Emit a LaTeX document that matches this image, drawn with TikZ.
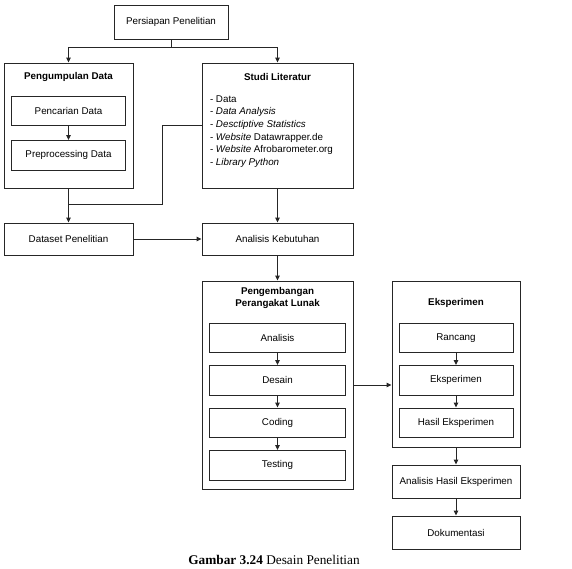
\documentclass[tikz,border=0pt]{standalone}
\usepackage{fontspec}
\setmainfont{Liberation Sans}
\newfontfamily\capfont{Liberation Serif}
\usetikzlibrary{arrows.meta, positioning, calc}
\newcommand{\boxfont}{\fontsize{9.8pt}{12.6pt}\selectfont}
\tikzset{
  >={Triangle[length=5pt, width=4.5pt]},
  stepbox/.style = {draw, rectangle, minimum width=114pt, minimum height=29.5pt,
                    inner sep=1pt, font=\boxfont, align=center},
  group/.style   = {draw, rectangle, inner sep=0pt},
  title/.style   = {font=\boxfont\bfseries, align=center, inner sep=0pt},
  arrow/.style   = {->, line width=1pt, black!85},
  link/.style    = {line width=1pt, black!85},
}
\begin{document}
\begin{tikzpicture}[
  every node/.style = {line width=1pt, draw=black!85}]
  \useasboundingbox (0,0) rectangle (572pt,-568pt);

  % Top: preparation
  \node[stepbox, minimum height=34pt] (persiapan) at (171pt,-22pt) {Persiapan Penelitian};

  % Left column: data collection
  \node[group, minimum width=129pt, minimum height=125pt] (kumpul) at (68.5pt,-125.5pt) {};
  \node[title, draw=none] at ([yshift=-14pt]kumpul.north) {Pengumpulan Data};
  \node[stepbox, below=33pt of kumpul.north] (cari)   {Pencarian Data};
  \node[stepbox, below=14pt of cari]         (prepro) {Preprocessing Data};
  \node[stepbox, minimum width=129pt, minimum height=32pt,
        below=34pt of kumpul]                (dataset) {Dataset Penelitian};

  % Middle column: literature and software development
  \node[group, minimum width=151pt, minimum height=125pt] (studi) at (277.5pt,-125.5pt) {};
  \node[title, draw=none] at ([yshift=-14pt]studi.north) {Studi Literatur};
  \node[draw=none, anchor=north west, align=left, inner sep=0pt, font=\boxfont]
       (pustaka) at ([xshift=8pt, yshift=-32.5pt]studi.north west)
       {- Data\\
        - \textit{Data Analysis}\\
        - \textit{Desctiptive Statistics}\\
        - \textit{Website} Datawrapper.de\\
        - \textit{Website} Afrobarometer.org\\
        - \textit{Library Python}};
  \node[stepbox, minimum width=151pt, minimum height=32pt,
        below=34pt of studi]                 (kebutuhan) {Analisis Kebutuhan};
  \node[group, minimum width=151pt, minimum height=208pt,
        below=25pt of kebutuhan]             (kembang) {};
  \node[title, draw=none] at ([yshift=-17.5pt]kembang.north) {Pengembangan\\Perangakat Lunak};
  \node[stepbox, minimum width=136pt, below=42pt of kembang.north] (analisis) {Analisis};
  \node[stepbox, minimum width=136pt, below=12pt of analisis]      (desain)   {Desain};
  \node[stepbox, minimum width=136pt, below=12pt of desain]        (coding)   {Coding};
  \node[stepbox, minimum width=136pt, below=12pt of coding]        (testing)  {Testing};

  % Right column: experiment
  \node[group, minimum width=128pt, minimum height=166pt,
        right=38pt of kembang.north east, anchor=north west] (eksp) {};
  \node[title, draw=none] at ([yshift=-22pt]eksp.north) {Eksperimen};
  \node[stepbox, below=42pt of eksp.north] (rancang)  {Rancang};
  \node[stepbox, below=12pt of rancang]    (eksplan)  {Eksperimen};
  \node[stepbox, below=12pt of eksplan]    (hasil)    {Hasil Eksperimen};
  \node[stepbox, minimum width=128pt, minimum height=33pt,
        below=17pt of eksp]                (anhasil)  {Analisis Hasil Eksperimen};
  \node[stepbox, minimum width=128pt, minimum height=33pt,
        below=17pt of anhasil]             (dokumen)  {Dokumentasi};

  % Edges
  \draw[arrow] (persiapan.south) -- ++(0,-8pt) -| (kumpul.north);
  \draw[arrow] (persiapan.south) -- ++(0,-8pt) -| (studi.north);
  \coordinate (tekuk) at ($(studi.west)+(-39pt,-78.5pt)$);
  \draw[link]  (studi.west) -| (tekuk) -- (tekuk -| kumpul.south);
  \foreach \a/\b in {cari/prepro, kumpul/dataset, studi/kebutuhan, kebutuhan/kembang,
                     analisis/desain, desain/coding, coding/testing,
                     rancang/eksplan, eksplan/hasil, eksp/anhasil, anhasil/dokumen}
    \draw[arrow] (\a) -- (\b);
  \draw[arrow] (dataset) -- (kebutuhan);
  \draw[arrow] (kembang.east) -- (kembang.east -| eksp.west);

  % Caption
  \node[draw=none, anchor=base, inner sep=0pt, font=\capfont\fontsize{13.3pt}{15pt}\selectfont]
       (judul) at (274pt,-564pt) {\textbf{Gambar 3.24} Desain Penelitian};
\end{tikzpicture}
\end{document}
